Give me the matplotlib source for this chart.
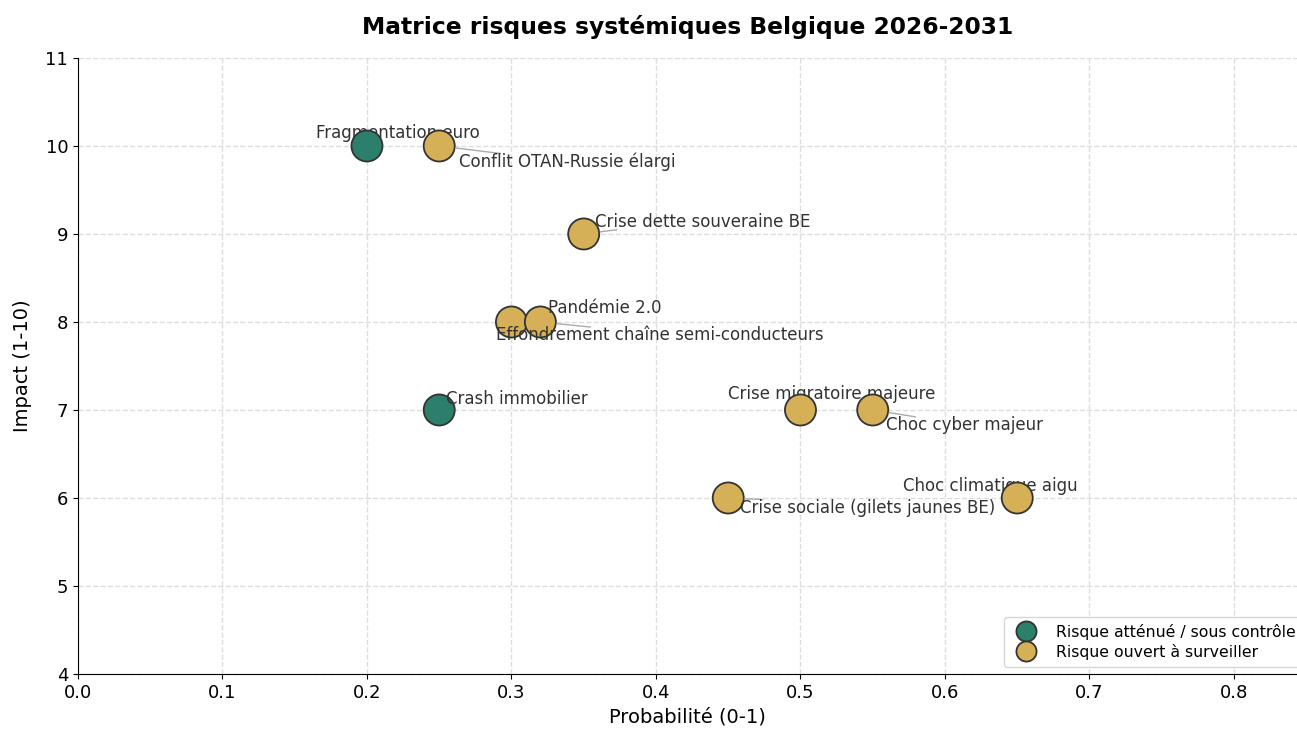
import numpy as np
import matplotlib.pyplot as plt
from matplotlib.lines import Line2D

plt.rcParams['font.family'] = ['DejaVu Sans']

# Données
risques = ['Fragmentation euro', 'Conflit OTAN-Russie élargi', 'Crise dette souveraine BE',
           'Pandémie 2.0', 'Effondrement chaîne semi-conducteurs', 'Crash immobilier',
           'Crise migratoire majeure', 'Choc cyber majeur', 'Crise sociale (gilets jaunes BE)',
           'Choc climatique aigu']
probabilite = [0.20, 0.25, 0.35, 0.30, 0.32, 0.25, 0.50, 0.55, 0.45, 0.65]
impact = [10, 10, 9, 8, 8, 7, 7, 7, 6, 6]
attenue = [True, False, False, False, False, True, False, False, False, False]

# Placement des étiquettes (coordonnées data du bord gauche / centre vertical)
label_x = [0.165, 0.264, 0.358, 0.325, 0.289, 0.255, 0.450, 0.559, 0.458, 0.571]
label_y = [10.15, 9.82, 9.14, 8.16, 7.85, 7.13, 7.18, 6.83, 5.89, 6.14]
# point d'attache du trait sur la boîte du texte (None = pas de trait)
attache = [None, (0.19, 0.95), (0.1, 0.05), None, (0.29, 0.95), None, None,
           (0.19, 0.95), (0.09, 0.95), None]
# étiquettes masquées par les bulles
dessous = {'Fragmentation euro', 'Crise migratoire majeure', 'Choc climatique aigu'}

VERT = '#2b7f6b'
OR = '#d6b057'

fig = plt.figure(figsize=(12.97, 7.31), dpi=100)
ax = fig.add_axes([0.0601, 0.078, 0.9399, 0.8427])

couleurs = [VERT if a else OR for a in attenue]
ax.scatter(probabilite, impact, s=500, c=couleurs, edgecolors='#333333',
           linewidths=1.3, zorder=3)

for nom, px, py, lx, ly, rel in zip(risques, probabilite, impact, label_x, label_y, attache):
    z = 2 if nom in dessous else 4
    props = None
    if rel is not None:
        props = dict(arrowstyle='-', color='#aaaaaa', lw=1, relpos=rel,
                     patchA=None, shrinkA=0, shrinkB=12)
    ax.annotate(nom, xy=(px, py), xytext=(lx, ly), ha='left', va='center',
                fontsize=12, color='#333333', zorder=z, arrowprops=props)

ax.set_xlim(0, 0.8436)
ax.set_ylim(4, 11)
ax.set_xticks(np.arange(0, 0.81, 0.1))
ax.set_yticks(range(4, 12))
ax.tick_params(labelsize=13)
ax.set_xlabel('Probabilité (0-1)', fontsize=14)
ax.set_ylabel('Impact (1-10)', fontsize=14, labelpad=10)
ax.set_title('Matrice risques systémiques Belgique 2026-2031', fontsize=16.8,
             fontweight='bold', pad=17)
ax.grid(True, linestyle='--', color='#dddddd', linewidth=1)
ax.set_axisbelow(True)
ax.spines['top'].set_visible(False)
ax.spines['right'].set_visible(False)

handles = [
    Line2D([], [], marker='o', linestyle='', markersize=14.5, markerfacecolor=VERT,
           markeredgecolor='#333333', markeredgewidth=1.3,
           label='Risque atténué / sous contrôle'),
    Line2D([], [], marker='o', linestyle='', markersize=14.5, markerfacecolor=OR,
           markeredgecolor='#333333', markeredgewidth=1.3,
           label='Risque ouvert à surveiller'),
]
ax.legend(handles=handles, loc='lower right', bbox_to_anchor=(1.005, 0.012),
          borderaxespad=0, fontsize=11.3, handletextpad=0.9, labelspacing=0.25,
          borderpad=0.45)

fig.savefig('out.png', dpi=100)
